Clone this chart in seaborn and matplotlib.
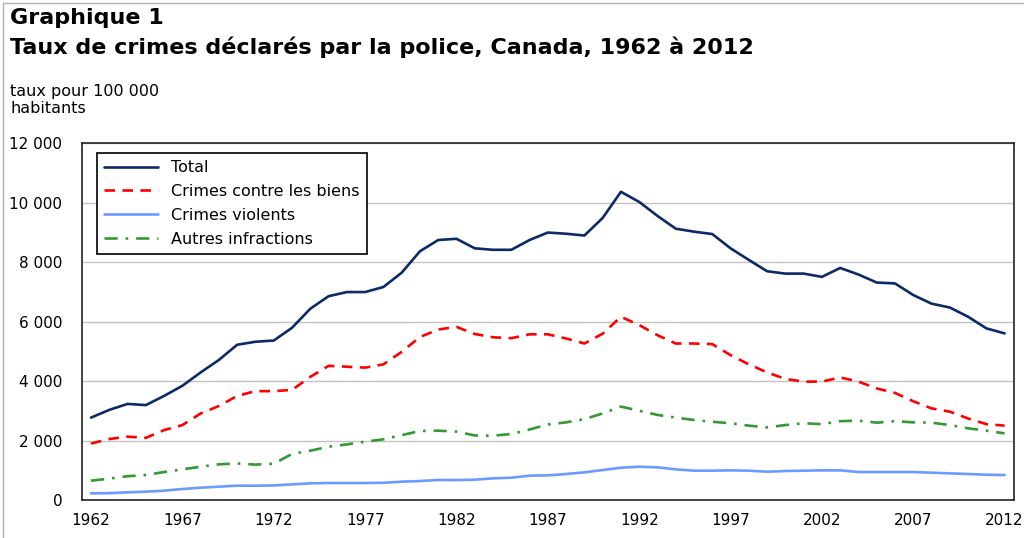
import matplotlib
matplotlib.use("Agg")
import matplotlib.pyplot as plt
from matplotlib.ticker import FuncFormatter, MultipleLocator, FixedLocator
from matplotlib.lines import Line2D
import seaborn as sns
import pandas as pd
import numpy as np

# taux pour 100 000 habitants, 1962 a 2012
years = list(range(1962, 2013))
total = [2770, 3030, 3230, 3190, 3500, 3840, 4290, 4710, 5220, 5320,
         5360, 5790, 6430, 6850, 6990, 6990, 7160, 7640, 8360, 8740,
         8780, 8460, 8410, 8410, 8740, 8990, 8950, 8890, 9480, 10360,
         10020, 9550, 9120, 9020, 8940, 8460, 8070, 7690, 7610, 7610,
         7500, 7800, 7580, 7310, 7280, 6890, 6600, 6470, 6160, 5770,
         5600]
biens = [1900, 2050, 2130, 2090, 2350, 2520, 2910, 3160, 3500, 3660,
         3660, 3700, 4140, 4510, 4480, 4450, 4560, 4980, 5480, 5730,
         5820, 5580, 5470, 5440, 5570, 5570, 5430, 5260, 5590, 6160,
         5880, 5540, 5260, 5260, 5240, 4870, 4560, 4290, 4070, 3980,
         3980, 4120, 3980, 3750, 3600, 3320, 3080, 2970, 2740, 2550,
         2500]
violents = [224, 230, 258, 280, 314, 370, 414, 448, 482, 482,
            490, 526, 560, 571, 571, 571, 580, 616, 638, 672,
            672, 683, 728, 750, 818, 829, 874, 930, 1008, 1086,
            1120, 1098, 1030, 986, 986, 997, 986, 952, 974, 986,
            997, 997, 941, 941, 941, 941, 918, 896, 874, 851,
            840]
autres = [650, 720, 800, 840, 940, 1030, 1120, 1200, 1230, 1190,
          1220, 1550, 1660, 1790, 1870, 1960, 2040, 2180, 2320, 2330,
          2300, 2170, 2160, 2220, 2370, 2540, 2610, 2720, 2910, 3140,
          3000, 2860, 2770, 2690, 2630, 2580, 2500, 2440, 2520, 2580,
          2550, 2650, 2670, 2600, 2650, 2610, 2600, 2520, 2410, 2330,
          2240]

series = ["Total", "Crimes contre les biens", "Crimes violents", "Autres infractions"]
colors = ["#0c2a66", "#ff0000", "#6b9bff", "#339933"]
dashes = [None, (4, 2.8), None, (5, 3, 1, 3)]

df = pd.DataFrame({"year": years, series[0]: total, series[1]: biens,
                   series[2]: violents, series[3]: autres})

sns.set_style("white")
plt.rcParams["font.family"] = ["DejaVu Sans"]
plt.rcParams["text.color"] = "black"
plt.rcParams["xtick.color"] = "black"
plt.rcParams["ytick.color"] = "black"
plt.rcParams["xtick.labelcolor"] = "black"
plt.rcParams["ytick.labelcolor"] = "black"

fig = plt.figure(figsize=(10.24, 5.38), dpi=100)
ax = fig.add_axes([0.080, 0.0706, 0.910, 0.6636])

for name, col, dsh in zip(series, colors, dashes):
    sns.lineplot(data=df, x="year", y=name, ax=ax, color=col, lw=1.9,
                 label=name, legend=False)
    if dsh is not None:
        ax.lines[-1].set_dashes(dsh)

ax.set_xlim(1961.5, 2012.5)
ax.set_ylim(0, 12000)
ax.yaxis.set_major_locator(MultipleLocator(2000))
ax.yaxis.set_major_formatter(FuncFormatter(lambda v, p: f"{int(v):,}".replace(",", " ")))
ax.xaxis.set_major_locator(FixedLocator(list(range(1962, 2013, 5))))
ax.xaxis.set_minor_locator(FixedLocator(list(np.arange(1961.5, 2013, 1.0))))
ax.tick_params(axis="x", which="major", length=0, pad=9, labelsize=11)
ax.tick_params(axis="x", which="minor", length=5, width=1, color="black", direction="out")
ax.tick_params(axis="y", length=0, pad=14, labelsize=11)
ax.set_xlabel("")
ax.set_ylabel("")
ax.grid(axis="y", color="#c4c4c4", lw=1)
ax.set_axisbelow(True)
for s in ["left", "bottom", "right", "top"]:
    ax.spines[s].set_color("#222222")
    ax.spines[s].set_linewidth(1.2)

handles = [Line2D([], [], color=c, lw=1.9) for c in colors]
for h, d in zip(handles, dashes):
    if d is not None:
        h.set_dashes(d)
leg = ax.legend(handles, series, loc="upper left", bbox_to_anchor=(0.016, 0.972),
                borderaxespad=0, fancybox=False, framealpha=1, edgecolor="black",
                fontsize=11.5, handlelength=3.4, labelspacing=0.55, borderpad=0.45,
                handletextpad=0.8)
leg.get_frame().set_linewidth(1.2)

fig.text(0.010, 0.985, "Graphique 1", fontsize=16, fontweight="bold", va="top")
fig.text(0.010, 0.932, "Taux de crimes déclarés par la police, Canada, 1962 à 2012",
         fontsize=16, fontweight="bold", va="top")
fig.text(0.010, 0.843, "taux pour 100 000\nhabitants", fontsize=11.5, va="top",
         linespacing=1.15)

# cadre de l'image
fig.add_artist(Line2D([0.003, 0.003], [0, 0.995], color="#b0b0b0", lw=1))
fig.add_artist(Line2D([0.003, 1], [0.995, 0.995], color="#b0b0b0", lw=1))

fig.savefig("out.png", dpi=100)
